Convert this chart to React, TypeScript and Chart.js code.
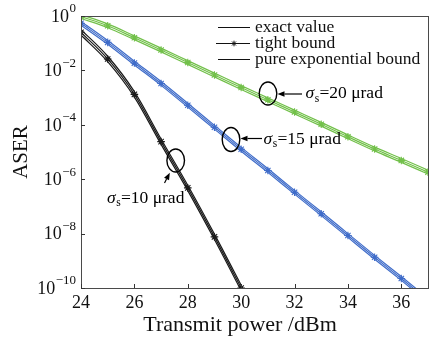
import React, { useEffect, useRef } from "react";
import { Chart, registerables } from "chart.js";

Chart.register(...registerables);

// ---- data (log10 of ASER) ----
const xValues = [24, 25, 26, 27, 28, 29, 30, 31, 32, 33, 34, 35, 36, 37];
const blackX = [24, 25, 26, 27, 28, 29, 30, 31];

const greenExact = [-0.09, -0.43, -0.87, -1.32, -1.78, -2.24, -2.70, -3.15, -3.60, -4.05, -4.51, -4.96, -5.38, -5.81];
const greenTight = [-0.02, -0.36, -0.80, -1.25, -1.71, -2.17, -2.63, -3.08, -3.53, -3.98, -4.44, -4.89, -5.31, -5.74];
const greenPure = [0.05, -0.29, -0.73, -1.18, -1.64, -2.10, -2.56, -3.01, -3.46, -3.91, -4.37, -4.82, -5.24, -5.67];

const blueExact = [-0.34, -1.04, -1.80, -2.55, -3.35, -4.16, -4.97, -5.75, -6.55, -7.34, -8.14, -8.94, -9.72, -10.52];
const blueTight = [-0.27, -0.97, -1.73, -2.48, -3.28, -4.09, -4.90, -5.68, -6.48, -7.27, -8.07, -8.87, -9.65, -10.45];
const bluePure = [-0.20, -0.90, -1.66, -2.41, -3.21, -4.02, -4.83, -5.61, -6.41, -7.20, -8.00, -8.80, -9.58, -10.38];

const blackExact = [-0.70, -1.68, -2.98, -4.72, -6.42, -8.22, -10.10, -12.0];
const blackTight = [-0.60, -1.58, -2.88, -4.62, -6.32, -8.12, -10.00, -11.9];
const blackPure = [-0.50, -1.48, -2.78, -4.52, -6.22, -8.02, -9.90, -11.8];

const xTicks = [24, 26, 28, 30, 32, 34, 36];
const yTickExponents = [0, -2, -4, -6, -8, -10];
const legendLabels = ["exact value", "tight bound", "pure exponential bound"];
const sigmaLabels = ["20", "15", "10"];

const FONT = '"Liberation Serif", "Times New Roman", serif';
const GREEN = "#72c04a";
const BLUE = "#3f6cc9";
const BLACK = "#1a1a1a";

function pts(xs: number[], logs: number[]) {
  return xs.map((x, i) => ({ x, y: Math.pow(10, logs[i]) }));
}

function line(data: { x: number; y: number }[], color: string, marker: boolean) {
  return {
    data,
    borderColor: color,
    backgroundColor: color,
    borderWidth: 1.2,
    pointRadius: marker ? 3.8 : 0,
    pointStyle: "star" as const,
    pointBorderColor: color,
    pointBorderWidth: 1.1,
    cubicInterpolationMode: "monotone" as const,
    fill: false,
  };
}

function drawArrow(ctx: CanvasRenderingContext2D, x1: number, y1: number, x2: number, y2: number) {
  const ang = Math.atan2(y2 - y1, x2 - x1);
  const len = 7;
  const hw = 2.8;
  const bx = x2 - len * Math.cos(ang);
  const by = y2 - len * Math.sin(ang);
  ctx.beginPath();
  ctx.moveTo(x1, y1);
  ctx.lineTo(bx, by);
  ctx.stroke();
  ctx.beginPath();
  ctx.moveTo(x2, y2);
  ctx.lineTo(bx + hw * Math.sin(ang), by - hw * Math.cos(ang));
  ctx.lineTo(bx - hw * Math.sin(ang), by + hw * Math.cos(ang));
  ctx.closePath();
  ctx.fill();
}

function drawSigma(ctx: CanvasRenderingContext2D, x: number, y: number, val: string) {
  ctx.textBaseline = "middle";
  ctx.textAlign = "left";
  ctx.font = `italic 17.5px ${FONT}`;
  ctx.fillText("σ", x, y);
  let cx = x + ctx.measureText("σ").width + 0.5;
  ctx.font = `11.5px ${FONT}`;
  ctx.fillText("s", cx, y + 5);
  cx += ctx.measureText("s").width + 0.3;
  ctx.font = `17.5px ${FONT}`;
  ctx.fillText(`=${val} μrad`, cx, y);
}

const decorPlugin = {
  id: "decor",
  afterDatasetsDraw(chart: any) {
    const ctx: CanvasRenderingContext2D = chart.ctx;
    const { left, right, top, bottom } = chart.chartArea;
    const xs = chart.scales.x;
    const ys = chart.scales.y;
    ctx.save();
    // frame
    ctx.strokeStyle = "#4a4a4a";
    ctx.lineWidth = 1;
    ctx.strokeRect(Math.round(left) + 0.5, Math.round(top) + 0.5, Math.round(right - left), Math.round(bottom - top));
    // ticks
    ctx.strokeStyle = "#333";
    ctx.beginPath();
    for (const v of xTicks) {
      const px = Math.round(xs.getPixelForValue(v)) + 0.5;
      ctx.moveTo(px, bottom);
      ctx.lineTo(px, bottom - 4);
    }
    for (const e of yTickExponents) {
      const py = Math.round(ys.getPixelForValue(Math.pow(10, e))) + 0.5;
      ctx.moveTo(left, py);
      ctx.lineTo(left + 4, py);
    }
    ctx.stroke();
    // y tick labels 10^e
    ctx.fillStyle = "#111";
    ctx.textBaseline = "middle";
    for (const e of yTickExponents) {
      const py = ys.getPixelForValue(Math.pow(10, e));
      const expText = e === 0 ? "0" : "\u2212" + Math.abs(e);
      ctx.font = `13px ${FONT}`;
      const ew = ctx.measureText(expText).width;
      const rightEdge = left - 5;
      ctx.textAlign = "left";
      ctx.fillText(expText, rightEdge - ew, py - 7);
      ctx.font = `18px ${FONT}`;
      ctx.textAlign = "right";
      ctx.fillText("10", rightEdge - ew - 0.5, py + 1);
    }
    // axis titles
    ctx.textAlign = "center";
    ctx.font = `22px ${FONT}`;
    ctx.fillText("Transmit power /dBm", 240, 325);
    ctx.save();
    ctx.translate(21, (top + bottom) / 2);
    ctx.rotate(-Math.PI / 2);
    ctx.font = `21px ${FONT}`;
    ctx.fillText("ASER", 0, 0);
    ctx.restore();
    // legend
    const rowY = [27, 43, 59];
    ctx.strokeStyle = "#111";
    ctx.fillStyle = "#111";
    ctx.lineWidth = 1;
    for (let i = 0; i < legendLabels.length; i++) {
      const y = rowY[i] + 0.5;
      ctx.beginPath();
      ctx.moveTo(i === 1 ? 216 : 218, y);
      ctx.lineTo(250, y);
      ctx.stroke();
      if (i === 1) {
        ctx.beginPath();
        const r = 2.8;
        for (let k = 0; k < 4; k++) {
          const a = (k * Math.PI) / 4;
          ctx.moveTo(234 - r * Math.cos(a), y - r * Math.sin(a));
          ctx.lineTo(234 + r * Math.cos(a), y + r * Math.sin(a));
        }
        ctx.stroke();
      }
      ctx.font = `17.5px ${FONT}`;
      ctx.textAlign = "left";
      ctx.textBaseline = "middle";
      ctx.fillText(legendLabels[i], 255, rowY[i]);
    }
    // annotations
    ctx.strokeStyle = "#000";
    ctx.fillStyle = "#000";
    ctx.lineWidth = 1.4;
    const ann = [
      { ex: 268, ey: 93.5, rx: 8.8, ry: 11.5, ax1: 302, ay1: 94, ax2: 277.5, ay2: 94, tx: 305.5, ty: 93.5 },
      { ex: 231, ey: 139.5, rx: 8.8, ry: 12, ax1: 262, ay1: 138.5, ax2: 240.5, ay2: 138.5, tx: 263.5, ty: 139 },
      { ex: 175.7, ey: 160.5, rx: 8.8, ry: 11.5, ax1: 164.5, ay1: 183, ax2: 169.8, ay2: 172.8, tx: 107, ty: 198 },
    ];
    ann.forEach((a, i) => {
      ctx.beginPath();
      ctx.ellipse(a.ex, a.ey, a.rx, a.ry, 0, 0, Math.PI * 2);
      ctx.stroke();
      ctx.lineWidth = 1.2;
      drawArrow(ctx, a.ax1, a.ay1, a.ax2, a.ay2);
      ctx.lineWidth = 1.4;
      drawSigma(ctx, a.tx, a.ty, sigmaLabels[i]);
    });
    ctx.restore();
  },
};

export default function App() {
  const ref = useRef<HTMLCanvasElement | null>(null);
  useEffect(() => {
    document.body.style.margin = "0";
    const canvas = ref.current;
    if (!canvas) return;
    const chart = new Chart(canvas, {
      type: "line",
      data: {
        datasets: [
          line(pts(xValues, greenExact), GREEN, false),
          line(pts(xValues, greenTight), GREEN, true),
          line(pts(xValues, greenPure), GREEN, false),
          line(pts(xValues, blueExact), BLUE, false),
          line(pts(xValues, blueTight), BLUE, true),
          line(pts(xValues, bluePure), BLUE, false),
          line(pts(blackX, blackExact), BLACK, false),
          line(pts(blackX, blackTight), BLACK, true),
          line(pts(blackX, blackPure), BLACK, false),
        ] as any,
      },
      options: {
        animation: false,
        responsive: false,
        devicePixelRatio: 1,
        layout: { padding: { top: 16, right: 8, left: 0, bottom: 0 } },
        plugins: { legend: { display: false }, tooltip: { enabled: false } },
        scales: {
          x: {
            type: "linear",
            min: 24,
            max: 37,
            grid: { display: false, drawTicks: false },
            border: { display: false },
            ticks: { font: { family: FONT, size: 18 }, color: "#111", padding: 4, autoSkip: false, maxRotation: 0 },
            afterBuildTicks: (s: any) => {
              s.ticks = xTicks.map((v) => ({ value: v }));
            },
            afterFit: (s: any) => {
              s.height = 53;
            },
          },
          y: {
            type: "logarithmic",
            min: 1e-10,
            max: 1,
            grid: { display: false, drawTicks: false },
            border: { display: false },
            ticks: { display: false },
            afterFit: (s: any) => {
              s.width = 81;
            },
          },
        },
      } as any,
      plugins: [decorPlugin],
    });
    return () => chart.destroy();
  }, []);
  return (
    <div style={{ width: 436, height: 341 }}>
      <canvas ref={ref} width={436} height={341} style={{ display: "block" }} />
    </div>
  );
}
